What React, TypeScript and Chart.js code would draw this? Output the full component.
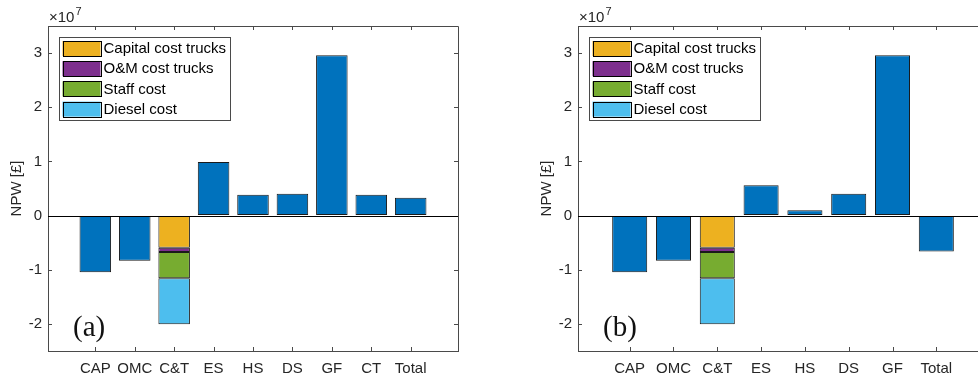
import React, { useEffect, useRef } from "react";
import { Chart, registerables } from "chart.js";

Chart.register(...registerables);

// ---------------- data ----------------
const categoriesA = ["CAP", "OMC", "C&T", "ES", "HS", "DS", "GF", "CT", "Total"];
const valuesA: (number | null)[] = [-1.045e7, -0.835e7, null, 0.99e7, 0.385e7, 0.405e7, 2.96e7, 0.385e7, 0.33e7];

const categoriesB = ["CAP", "OMC", "C&T", "ES", "HS", "DS", "GF", "Total"];
const valuesB: (number | null)[] = [-1.045e7, -0.835e7, null, 0.56e7, 0.1e7, 0.405e7, 2.96e7, -0.665e7];

const ctCategory = "C&T";
const ctComponentLabels = ["Capital cost trucks", "O&M cost trucks", "Staff cost", "Diesel cost"];
const ctComponentValues = [-0.595e7, -0.075e7, -0.485e7, -0.85e7];

const yTickValues = [-2, -1, 0, 1, 2, 3];
const yScaleFactor = 1e7;
const yMin = -2.5;
const yMax = 3.5;
const yTitle = "NPW [£]";

// ---------------- styles ----------------
const ctComponentColors = ["#EDB120", "#7E2F8E", "#77AC30", "#4DBEEE"];
const mainColor = "#0072BD";
const edgeColor = "#1a1a1a";
const axisColor = "#4a4a4a";
const textColor = "#262626";
const sansFamily = '"Liberation Sans", Arial, Helvetica, sans-serif';
const serifFamily = '"Liberation Serif", "Times New Roman", serif';

function px(v: number) {
  return Math.round(v) + 0.5;
}

function makeDecorPlugin(panelLabel: string) {
  return {
    id: "matlabDecor",
    afterDraw(chart: any) {
      const { ctx, chartArea: ca, scales } = chart;
      const xs = scales.x;
      const ys = scales.y;
      ctx.save();

      // box top & right
      ctx.strokeStyle = axisColor;
      ctx.lineWidth = 1;
      ctx.beginPath();
      ctx.moveTo(px(ca.left), px(ca.top));
      ctx.lineTo(px(ca.right), px(ca.top));
      ctx.lineTo(px(ca.right), px(ca.bottom));
      ctx.stroke();

      // inward ticks
      const tl = 4;
      ctx.beginPath();
      xs.ticks.forEach((_t: any, i: number) => {
        const x = px(xs.getPixelForTick(i));
        ctx.moveTo(x, ca.bottom);
        ctx.lineTo(x, ca.bottom - tl);
        ctx.moveTo(x, ca.top);
        ctx.lineTo(x, ca.top + tl);
      });
      ys.ticks.forEach((_t: any, i: number) => {
        const y = px(ys.getPixelForTick(i));
        ctx.moveTo(ca.left, y);
        ctx.lineTo(ca.left + tl, y);
        ctx.moveTo(ca.right, y);
        ctx.lineTo(ca.right - tl, y);
      });
      ctx.stroke();

      // zero baseline
      const y0 = px(ys.getPixelForValue(0));
      ctx.strokeStyle = "#000";
      ctx.beginPath();
      ctx.moveTo(ca.left, y0);
      ctx.lineTo(ca.right, y0);
      ctx.stroke();

      // exponent label
      ctx.fillStyle = textColor;
      ctx.textBaseline = "alphabetic";
      ctx.textAlign = "left";
      ctx.font = `15px ${sansFamily}`;
      const base = "\u00d710";
      const ex = ca.left + 1;
      ctx.fillText(base, ex, 22);
      const w = ctx.measureText(base).width;
      ctx.font = `11px ${sansFamily}`;
      ctx.fillText("7", ex + w + 1, 15);

      // legend
      const lx = ca.left + 11;
      const ly = ca.top + 11;
      const lw = 171;
      const lh = 83;
      ctx.fillStyle = "#fff";
      ctx.fillRect(lx, ly, lw, lh);
      ctx.strokeStyle = axisColor;
      ctx.strokeRect(px(lx), px(ly), lw, lh);
      ctx.font = `15px ${sansFamily}`;
      ctx.textBaseline = "middle";
      const ds = chart.data.datasets.filter((d: any) => d.inLegend);
      ds.forEach((d: any, k: number) => {
        const sy = ly + 4 + k * 20.2;
        ctx.fillStyle = d.backgroundColor;
        ctx.fillRect(lx + 3.5, sy, 38, 15);
        ctx.strokeStyle = "#000";
        ctx.strokeRect(px(lx + 3.5), px(sy), 38, 15);
        ctx.fillStyle = "#000";
        ctx.fillText(d.label, lx + 44.5, sy + 8);
      });

      // panel label
      ctx.fillStyle = "#111";
      ctx.textBaseline = "alphabetic";
      ctx.font = `29px ${serifFamily}`;
      ctx.fillText(panelLabel, ca.left + 25, 336);

      ctx.restore();
    },
  };
}

type PanelProps = {
  categories: string[];
  values: (number | null)[];
  xMin: number;
  xMax: number;
  label: string;
  padLeft: number;
  padRight: number;
  width: number;
};

function Panel({ categories, values, xMin, xMax, label, padLeft, padRight, width }: PanelProps) {
  const ref = useRef<HTMLCanvasElement>(null);

  useEffect(() => {
    if (!ref.current) return;
    const ctPos = categories.indexOf(ctCategory) + 1;
    const barStyle = {
      borderColor: edgeColor,
      borderWidth: 1,
      borderSkipped: false,
      barPercentage: 0.8,
      categoryPercentage: 1,
    };
    const componentSets = ctComponentLabels.map((lbl, k) => ({
      label: lbl,
      inLegend: true,
      data: [{ x: ctPos, y: ctComponentValues[k] }],
      backgroundColor: ctComponentColors[k],
      ...barStyle,
    }));
    const mainData = values
      .map((v, i) => (v === null ? null : { x: i + 1, y: v }))
      .filter((p) => p !== null);
    const datasets: any[] = [
      ...componentSets,
      {
        label: "NPW",
        inLegend: false,
        data: mainData,
        backgroundColor: mainColor,
        ...barStyle,
      },
    ];

    const chart = new Chart(ref.current, {
      type: "bar",
      data: { datasets },
      options: {
        animation: false,
        responsive: false,
        maintainAspectRatio: false,
        layout: { padding: { left: padLeft, right: padRight, top: 26, bottom: 0 } },
        plugins: {
          legend: { display: false },
          tooltip: { enabled: false },
        },
        scales: {
          x: {
            type: "linear",
            stacked: true,
            offset: false,
            min: xMin,
            max: xMax,
            afterBuildTicks: (s: any) => {
              s.ticks = categories.map((_c, i) => ({ value: i + 1 }));
            },
            afterFit: (s: any) => {
              s.height = 28;
            },
            ticks: {
              autoSkip: false,
              maxRotation: 0,
              padding: 9,
              color: textColor,
              font: { family: sansFamily, size: 15 },
              callback: (_v: any, i: number) => categories[i],
            },
            grid: { display: true, drawOnChartArea: false, drawTicks: false, offset: false },
            border: { display: true, color: axisColor, width: 1 },
          },
          y: {
            type: "linear",
            stacked: true,
            min: yMin * yScaleFactor,
            max: yMax * yScaleFactor,
            afterBuildTicks: (s: any) => {
              s.ticks = yTickValues.map((v) => ({ value: v * yScaleFactor }));
            },
            afterFit: (s: any) => {
              s.width = 48;
            },
            ticks: {
              padding: 6,
              color: textColor,
              font: { family: sansFamily, size: 15 },
              callback: (v: any) => String(Math.round(Number(v) / yScaleFactor)),
            },
            title: {
              display: true,
              text: yTitle,
              color: textColor,
              font: { family: sansFamily, size: 15 },
              padding: { top: 8, bottom: 0 },
            },
            grid: { display: true, drawOnChartArea: false, drawTicks: false },
            border: { display: true, color: axisColor, width: 1 },
          },
        },
      } as any,
      plugins: [makeDecorPlugin(label)],
    });
    return () => chart.destroy();
  }, []);

  return <canvas ref={ref} width={width} height={379} style={{ width, height: 379, display: "block" }} />;
}

export default function App() {
  return (
    <div
      style={{
        position: "fixed",
        left: 0,
        top: 0,
        width: 978,
        height: 379,
        overflow: "hidden",
        background: "#fff",
      }}
    >
      <div style={{ position: "absolute", left: 0, top: 0 }}>
        <Panel
          categories={categoriesA}
          values={valuesA}
          xMin={-0.2}
          xMax={10.2}
          label="(a)"
          padLeft={0}
          padRight={32}
          width={490}
        />
      </div>
      <div style={{ position: "absolute", left: 490, top: 0 }}>
        <Panel
          categories={categoriesB}
          values={valuesB}
          xMin={-0.18}
          xMax={9.18}
          label="(b)"
          padLeft={40}
          padRight={12}
          width={510}
        />
      </div>
    </div>
  );
}
